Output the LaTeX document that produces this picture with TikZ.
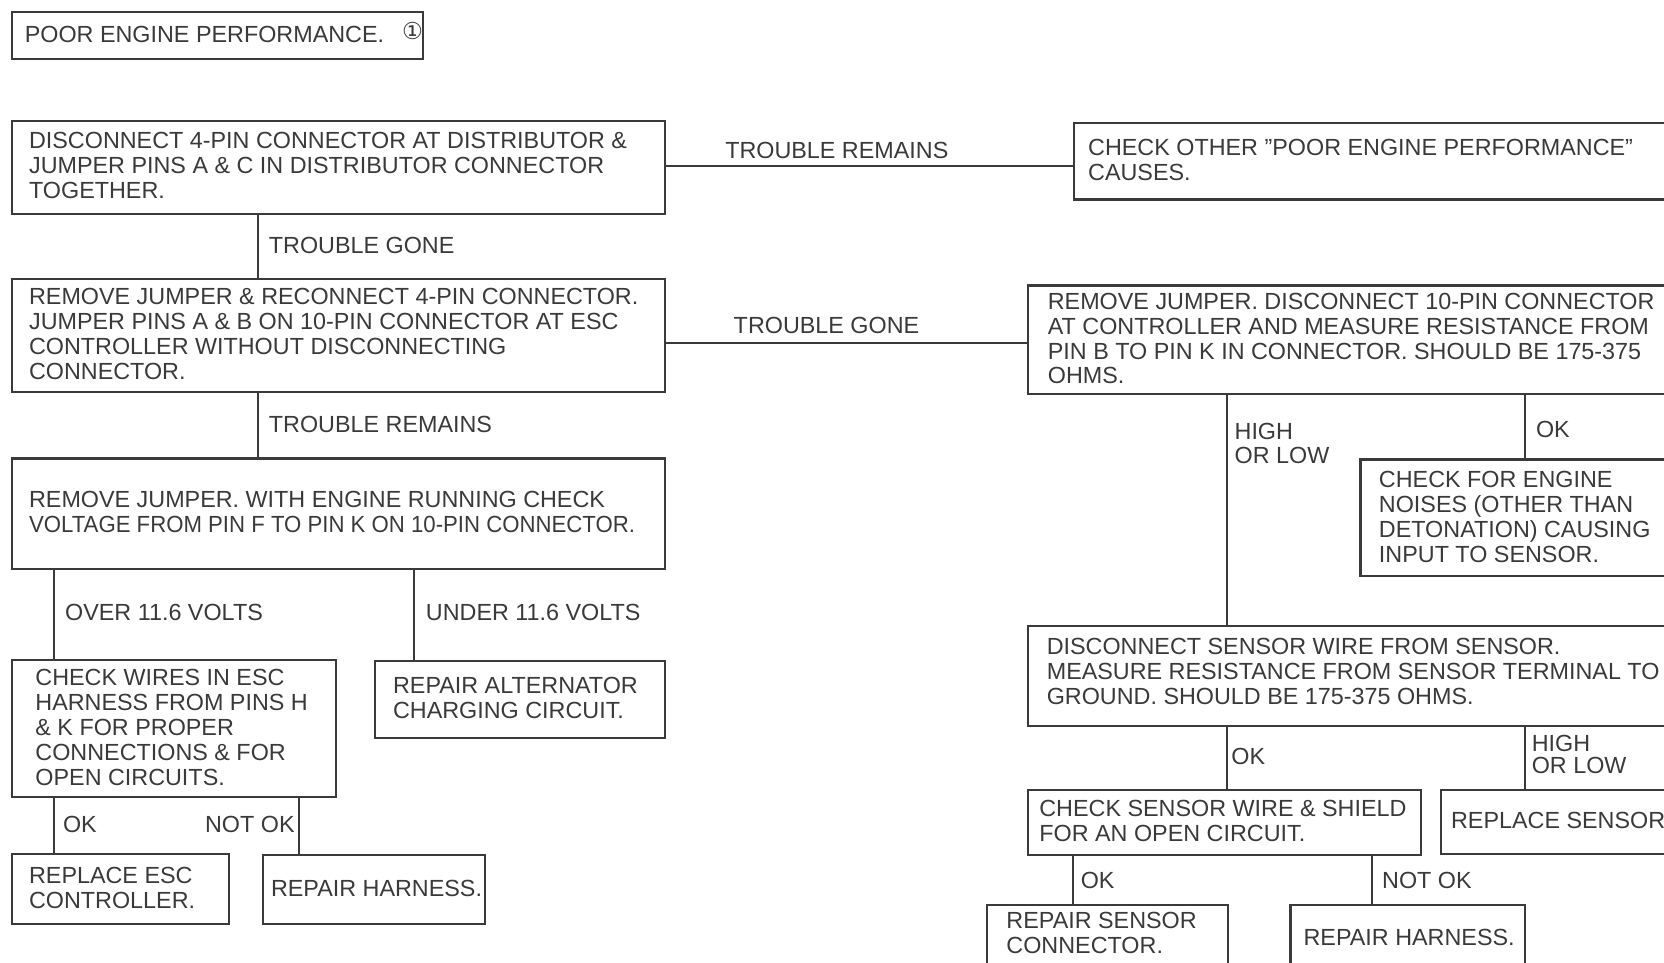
\documentclass[tikz,border=0pt]{standalone}
\usepackage{fontspec}
\usepackage{graphicx}
\setmainfont{Liberation Sans}
\newfontfamily\dejavu{DejaVu Sans}
\definecolor{ink}{HTML}{3A3A3A}
\begin{document}
\begin{tikzpicture}[x=0.5pt,y=-0.5pt,
  box/.style={draw=ink, line width=1pt, anchor=north west, inner sep=0pt},
  txt/.style={anchor=west, inner sep=0pt, align=left, text=ink, font=\fontsize{11}{11.75}\selectfont},
  lbl/.style={txt},
  conn/.style={draw=ink, line width=1pt}]
\fill[white] (0,0) rectangle (1568,907);
\useasboundingbox (0,0) rectangle (1568,907);
\clip (0,0) rectangle (1568,907);

% boxes
\node[box, minimum width=194pt, minimum height=22.5pt] (p) at (10,10) {};
\node[box, minimum width=308pt, minimum height=44pt] (a) at (10,113) {};
\node[box, minimum width=314.5pt, minimum height=36pt] (b) at (1011,115) {};
\node[box, minimum width=308pt, minimum height=53pt] (c) at (10,262) {};
\node[box, minimum width=336pt, minimum height=51pt] (d) at (968,268) {};
\node[box, minimum width=308pt, minimum height=52pt] (e) at (10,431) {};
\node[box, minimum width=153pt, minimum height=64.5pt] (f) at (10,621) {};
\node[box, minimum width=137pt, minimum height=36pt] (g) at (352,622) {};
\node[box, minimum width=102.5pt, minimum height=33pt] (h) at (10,804) {};
\node[box, minimum width=104.5pt, minimum height=32.5pt] (i) at (247,805) {};
\node[box, minimum width=179.5pt, minimum height=55pt] (k) at (1281,432) {};
\node[box, minimum width=336pt, minimum height=47pt] (j) at (968,589) {};
\node[box, minimum width=185pt, minimum height=31pt] (l) at (968,743) {};
\node[box, minimum width=141.5pt, minimum height=30.5pt] (m) at (1357,743) {};
\node[box, minimum width=113.5pt, minimum height=39pt] (n) at (929,852) {};
\node[box, minimum width=110.5pt, minimum height=39pt] (o) at (1215,852) {};

% box texts
\node[txt] (pt) at (23,32) {POOR ENGINE PERFORMANCE.\hspace{8.5pt}\smash{\raisebox{1pt}{\dejavu\fontsize{11}{11}\selectfont ①}}};
\node[txt] (at) at (27,156) {DISCONNECT 4-PIN CONNECTOR AT DISTRIBUTOR \&\\JUMPER PINS A \& C IN DISTRIBUTOR CONNECTOR\\TOGETHER.};
\node[txt] (bt) at (1025,150.5) {CHECK OTHER ''POOR ENGINE PERFORMANCE''\\CAUSES.};
\node[txt] (ct) at (27,315) {REMOVE JUMPER \& RECONNECT 4-PIN CONNECTOR.\\JUMPER PINS A \& B ON 10-PIN CONNECTOR AT ESC\\CONTROLLER WITHOUT DISCONNECTING\\CONNECTOR.};
\node[txt] (dt) at (987,319) {REMOVE JUMPER. DISCONNECT 10-PIN CONNECTOR\\AT CONTROLLER AND MEASURE RESISTANCE FROM\\PIN B TO PIN K IN CONNECTOR. SHOULD BE 175-375\\OHMS.};
\node[txt] (et) at (27,482) {REMOVE JUMPER. WITH ENGINE RUNNING CHECK\\\scalebox{0.95}[1]{VOLTAGE FROM PIN F TO PIN K ON 10-PIN CONNECTOR.}};
\node[txt] (ft) at (33,685.5) {CHECK WIRES IN ESC\\HARNESS FROM PINS H\\\& K FOR PROPER\\CONNECTIONS \& FOR\\OPEN CIRCUITS.};
\node[txt] (gt) at (370,657.5) {REPAIR ALTERNATOR\\CHARGING CIRCUIT.};
\node[txt] (ht) at (27,836.5) {REPLACE ESC\\CONTROLLER.};
\node[txt] (it) at (255,837) {REPAIR HARNESS.};
\node[txt] (kt) at (1299,487.5) {CHECK FOR ENGINE\\NOISES (OTHER THAN\\DETONATION) CAUSING\\INPUT TO SENSOR.};
\node[txt] (jt) at (986,632.5) {DISCONNECT SENSOR WIRE FROM SENSOR.\\MEASURE RESISTANCE FROM SENSOR TERMINAL TO\\GROUND. SHOULD BE 175-375 OHMS.};
\node[txt] (lt) at (979,773.5) {CHECK SENSOR WIRE \& SHIELD\\FOR AN OPEN CIRCUIT.};
\node[txt] (mt) at (1367,773) {REPLACE SENSOR};
\node[txt] (nt) at (948,879.5) {REPAIR SENSOR\\CONNECTOR.};
\node[txt] (ot) at (1228,883) {REPAIR HARNESS.};

% connectors
\draw[conn] (a.east |- 0,156) -- (b.west |- 0,156);
\draw[conn] (c.east |- 0,323) -- (d.west |- 0,323);
\draw[conn] (243,0 |- a.south) -- (243,0 |- c.north);
\draw[conn] (243,0 |- c.south) -- (243,0 |- e.north);
\draw[conn] (51,0 |- e.south) -- (51,0 |- f.north);
\draw[conn] (390,0 |- e.south) -- (390,0 |- g.north);
\draw[conn] (51,0 |- f.south) -- (51,0 |- h.north);
\draw[conn] (282,0 |- f.south) -- (282,0 |- i.north);
\draw[conn] (1156,0 |- d.south) -- (1156,0 |- j.north);
\draw[conn] (1437,0 |- d.south) -- (1437,0 |- k.north);
\draw[conn] (1156,0 |- j.south) -- (1156,0 |- l.north);
\draw[conn] (1437,0 |- j.south) -- (1437,0 |- m.north);
\draw[conn] (1011,0 |- l.south) -- (1011,0 |- n.north);
\draw[conn] (1293,0 |- l.south) -- (1293,0 |- o.north);

% labels
\node[lbl] (l1) at (683,142) {TROUBLE REMAINS};
\node[lbl] (l2) at (253,231) {TROUBLE GONE};
\node[lbl] (l3) at (691,307) {TROUBLE GONE};
\node[lbl] (l4) at (253,400) {TROUBLE REMAINS};
\node[lbl] (l5) at (61,577) {OVER 11.6 VOLTS};
\node[lbl] (l6) at (401,577) {UNDER 11.6 VOLTS};
\node[lbl] (l7) at (59,777) {OK};
\node[lbl, anchor=east] (l8) at (278,777) {NOT OK};
\node[lbl, font=\fontsize{11}{11}\selectfont] (l9) at (1163,418) {HIGH\\OR LOW};
\node[lbl] (l10) at (1447,405) {OK};
\node[lbl] (l11) at (1160,713) {OK};
\node[lbl, font=\fontsize{11}{10.25}\selectfont] (l12) at (1443,711) {HIGH\\OR LOW};
\node[lbl] (l13) at (1018,830) {OK};
\node[lbl] (l14) at (1302,830) {NOT OK};
\end{tikzpicture}
\end{document}
